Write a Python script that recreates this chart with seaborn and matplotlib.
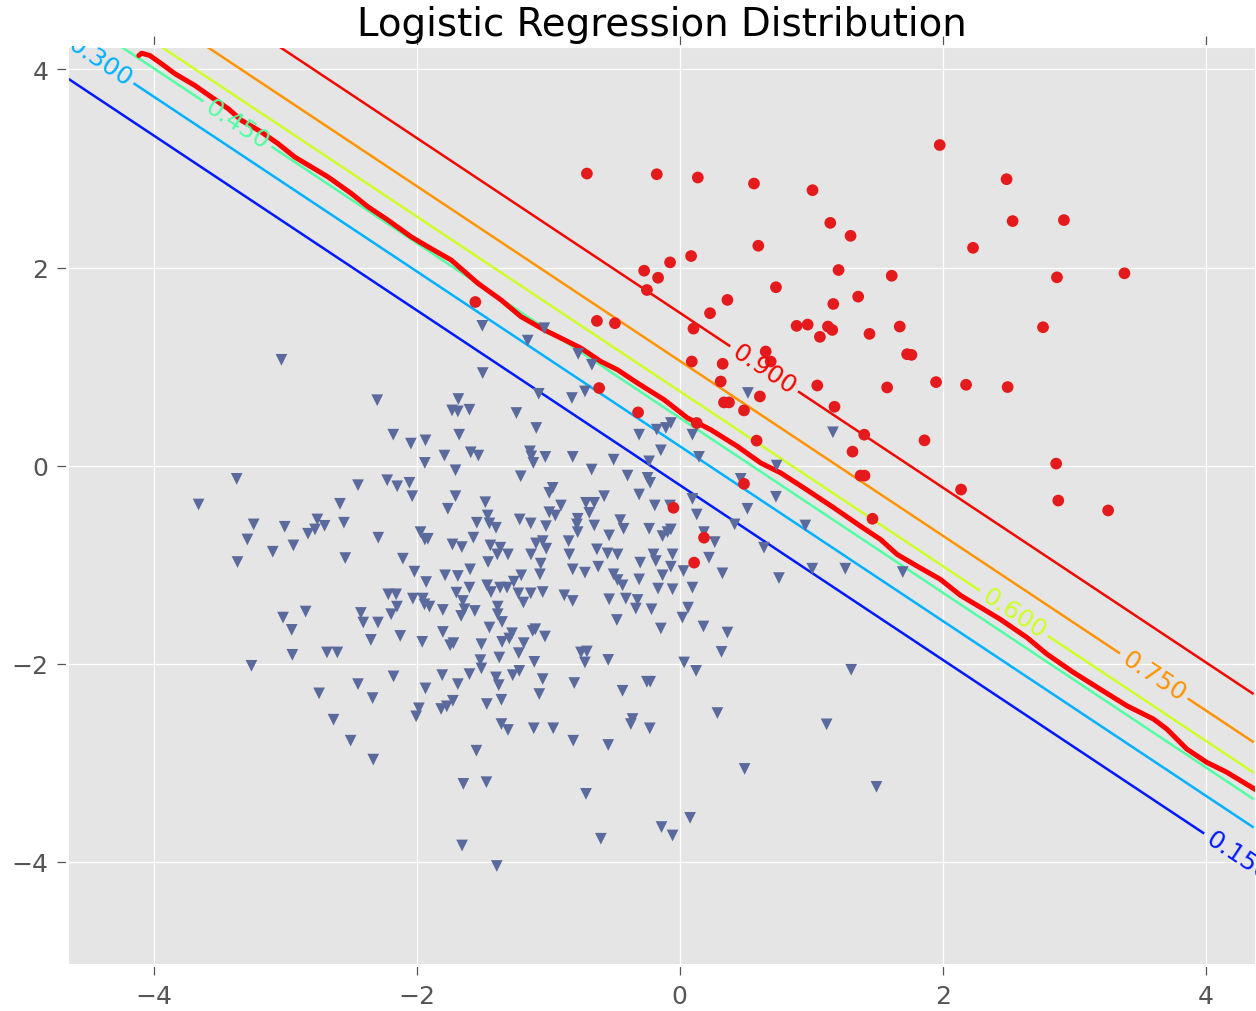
import matplotlib
matplotlib.use("Agg")
import matplotlib.pyplot as plt
import numpy as np
import pandas as pd
import seaborn as sns


# class 0 points (triangles)
TRI_X = [
    -3.028,
    -3.368, -2.446, -3.658, -2.583, -3.239, -3.003, -2.755, -2.700, -2.773, -2.553, -2.826,
    -3.287, -2.937, -3.094, -3.362, -2.543, -3.016, -2.844, -2.424, -2.406, -2.294, -2.950,
    -2.348, -2.945, -2.682, -2.603, -3.256, -2.446, -2.742, -2.335, -2.632, -2.502, -2.330,
    -2.300, -1.498, -1.683, -1.731, -1.687, -1.599, -1.072, -0.820, -1.242, -2.178, -2.044,
    -1.933, -1.677, -1.091, -1.789, -1.938, -1.589, -1.531, -1.139, -1.129, -1.113, -1.022,
    -0.814, -1.705, -1.209, -2.224, -2.148, -2.055, -2.034, -1.705, -1.763, -1.478, -0.966,
    -0.992, -0.903, -0.992, -0.946, -1.460, -1.543, -1.447, -1.397, -1.217, -1.133, -1.017,
    -2.292, -1.971, -1.938, -1.915, -1.569, -1.728, -1.657, -1.440, -1.364, -1.387, -1.306,
    -1.093, -1.042, -1.015, -1.131, -0.845, -0.840, -2.105, -1.457, -1.057, -2.017, -1.928,
    -1.784, -1.687, -1.594, -1.205, -1.063, -0.814, -1.262, -1.465, -1.435, -1.366, -1.313,
    -1.227, -1.189, -1.133, -1.042, -1.599, -1.698, -1.649, -1.637, -1.662, -1.558, -1.801,
    -2.216, -2.156, -2.150, -2.194, -2.029, -1.953, -1.941, -1.903, -1.384, -1.384, -1.351,
    -0.878, -0.814,
    -1.447, -2.125, -1.958, -1.801, -1.746, -1.721, -1.508, -1.351, -1.296, -1.275, -1.118,
    -1.098, -1.025, -1.186, -1.224, -1.372, -1.516, -1.508, -1.106, -2.176, -1.806, -1.599,
    -1.687, -1.933, -1.397, -1.376, -1.270, -1.220, -1.042, -1.068, -0.802, -1.725, -1.771,
    -1.814, -1.983, -2.004, -1.467, -1.356, -1.356, -1.306, -1.110, -0.962, -0.810, -1.546,
    -1.645, -1.470, -1.655, -1.391,
    -0.721, -0.309, -0.175, -0.106, -0.068, 0.096, -0.144, -0.503, -0.670, 0.146, -0.233,
    -0.397, -0.245, -0.225, 0.463, -0.575, -0.309, -0.713, -0.650, -0.688, -0.776, -0.782,
    -0.776, -0.650, -0.453, -0.427, -0.190, -0.074, 0.096, 0.129, 0.514, 0.417, 0.640,
    -0.233, -0.131, -0.093, -0.068, -0.537, 0.184, 0.266, -0.630, -0.549, -0.473, -0.200,
    -0.182, -0.055, -0.301, -0.068, 0.222, -0.721, -0.620, -0.503, -0.473, -0.435, -0.309,
    -0.131, 0.028, 0.324, -0.165, -0.055, 0.096, -0.537, -0.410, -0.321, -0.334, -0.215,
    0.063, -0.478, 0.020,
    -0.144, 0.180, 0.362, -0.751, -0.706, -0.721, -0.544, 0.317, 0.033, 0.124, -0.435,
    -0.250, -0.225, 0.286, -0.359, -0.372, -0.228, -0.544, 0.493, -0.713, 0.078, -0.139,
    -0.055, -0.600,
    -1.501, -1.156, -1.030, -0.772, -0.668, 0.518,
    1.164, 0.736, 0.731, 0.954, 1.007, 1.258, 0.754, 1.695, 1.303, 1.116, 1.495,
]
TRI_Y = [
    1.068,
    -0.134, -0.198, -0.393, -0.386, -0.594, -0.618, -0.544, -0.608, -0.645, -0.577, -0.688,
    -0.746, -0.806, -0.870, -0.974, -0.934, -1.535, -1.474, -1.488, -1.585, -1.585, -1.659,
    -1.760, -1.911, -1.887, -1.887, -2.022, -2.207, -2.300, -2.348, -2.566, -2.778, -2.969,
    0.660, 0.934, 0.672, 0.557, 0.547, 0.564, 0.725, 0.682, 0.531, 0.312, 0.222,
    0.255, 0.312, 0.380, 0.101, 0.027, 0.134, 0.101, 0.144, 0.094, 0.027, 0.088,
    0.088, -0.047, -0.108, -0.148, -0.209, -0.174, -0.309, -0.309, -0.436, -0.370, -0.225,
    -0.275, -0.403, -0.471, -0.504, -0.504, -0.577, -0.584, -0.628, -0.544, -0.584, -0.612,
    -0.728, -0.672, -0.746, -0.739, -0.728, -0.796, -0.823, -0.806, -0.829, -0.897, -0.897,
    -0.786, -0.763, -0.839, -0.897, -0.763, -0.897, -0.940, -0.974, -0.990, -1.071, -1.176,
    -1.108, -1.115, -1.048, -1.108, -1.098, -1.048, -1.172, -1.209, -1.277, -1.232, -1.232,
    -1.290, -1.383, -1.290, -1.277, -1.232, -1.283, -1.367, -1.451, -1.518, -1.468, -1.458,
    -1.300, -1.300, -1.424, -1.501, -1.343, -1.343, -1.401, -1.424, -1.424, -1.501, -1.579,
    -1.310, -1.367,
    -1.635, -1.720, -1.780, -1.680, -1.814, -1.793, -1.804, -1.780, -1.746, -1.693, -1.670,
    -1.652, -1.726, -1.793, -1.894, -1.938, -1.965, -2.048, -1.982, -2.129, -2.116, -2.106,
    -2.207, -2.250, -2.139, -2.217, -2.116, -2.073, -2.156, -2.307, -2.196, -2.375, -2.431,
    -2.458, -2.451, -2.532, -2.408, -2.365, -2.610, -2.670, -2.653, -2.653, -2.778, -2.879,
    -3.214, -3.197, -3.836, -4.043,
    0.749, 0.312, 0.363, 0.380, 0.430, 0.312, 0.154, 0.060, -0.040, 0.088, 0.043,
    -0.101, -0.124, -0.174, -0.134, -0.309, -0.292, -0.376, -0.376, -0.477, -0.537, -0.594,
    -0.672, -0.605, -0.551, -0.638, -0.403, -0.403, -0.336, -0.494, -0.436, -0.594, -0.829,
    -0.638, -0.712, -0.672, -0.645, -0.705, -0.672, -0.773, -0.846, -0.887, -0.897, -0.897,
    -0.964, -0.897, -0.980, -1.021, -0.930, -1.081, -1.021, -1.098, -1.156, -1.209, -1.149,
    -1.108, -1.065, -1.088, -1.242, -1.249, -1.232, -1.350, -1.343, -1.357, -1.444, -1.451,
    -1.434, -1.559, -1.535,
    -1.645, -1.625, -1.686, -1.887, -1.877, -1.988, -1.962, -1.881, -1.988, -2.073, -2.274,
    -2.183, -2.183, -2.499, -2.559, -2.610, -2.653, -2.821, -3.063, -3.315, -3.557, -3.650,
    -3.735, -3.768,
    1.411, 1.262, 1.387, 1.128, 1.018, 0.733,
    0.336, 0.000, -0.315, -0.605, -1.041, -1.041, -1.136, -1.075, -2.062, -2.613, -3.244,
]

# class 1 points (circles)
RED_X = [
    -0.613, -0.317, 0.129, 0.311, 0.336, 0.374, 0.488, 0.609, 0.584, 0.488, -0.048, 0.184, 0.109,
    -0.706, -0.175, 0.137, 0.564, 0.597, 0.086, -0.074, -0.271, -0.165, -0.250, 0.731, 0.362,
    0.230, 0.888, 0.104, -0.630, -0.493, -1.554, 0.091, 0.326, 0.653, 0.691,
    1.976, 2.484, 1.009, 1.144, 1.298, 2.530, 2.920, 2.229, 1.207, 1.611, 2.867, 3.380, 1.356,
    1.167, 0.972, 1.065, 1.126, 1.159, 1.442, 1.672, 2.761, 1.728, 1.761, 1.045, 1.576, 1.948,
    2.176, 2.492, 1.176,
    1.402, 1.860, 1.313, 1.374, 1.404, 2.138, 1.465, 2.861, 2.877, 3.256,
]
RED_Y = [
    0.783, 0.537, 0.430, 0.849, 0.638, 0.638, 0.557, 0.698, 0.252, -0.184, -0.426, -0.728, -0.980,
    2.949, 2.942, 2.909, 2.848, 2.220, 2.116, 2.052, 1.968, 1.897, 1.773, 1.801, 1.673,
    1.539, 1.411, 1.383, 1.461, 1.438, 1.652, 1.051, 1.028, 1.152, 1.051,
    3.237, 2.892, 2.781, 2.451, 2.320, 2.469, 2.479, 2.199, 1.975, 1.917, 1.901, 1.942, 1.706,
    1.632, 1.424, 1.300, 1.404, 1.370, 1.330, 1.404, 1.397, 1.125, 1.118, 0.809, 0.789, 0.843,
    0.816, 0.793, 0.594,
    0.312, 0.255, 0.141, -0.101, -0.101, -0.242, -0.537, 0.020, -0.353, -0.453,
]

# thick red boundary
BOUND_X = [
    -4.112, -4.091, -4.028, -3.939, -3.838, -3.687, -3.560, -3.433, -3.332, -3.180, -3.054,
    -2.927, -2.801, -2.674, -2.497, -2.370, -2.219, -2.042, -1.915, -1.738, -1.535, -1.359,
    -1.207, -1.030, -0.903, -0.751, -0.600, -0.473, -0.321, -0.119, 0.058, 0.235, 0.438,
    0.615, 0.767, 0.943, 1.171, 1.374, 1.526, 1.652, 1.804, 1.981, 2.133, 2.285, 2.436,
    2.639, 2.791, 2.993, 3.195, 3.398, 3.600, 3.702, 3.853, 4.005, 4.157, 4.380,
]
BOUND_Y = [
    4.141, 4.164, 4.141, 4.057, 3.957, 3.839, 3.721, 3.604, 3.486, 3.368, 3.251,
    3.116, 3.016, 2.915, 2.748, 2.613, 2.479, 2.310, 2.210, 2.076, 1.841, 1.673,
    1.504, 1.370, 1.287, 1.186, 1.051, 0.967, 0.833, 0.665, 0.481, 0.363, 0.194,
    0.027, -0.074, -0.225, -0.426, -0.612, -0.746, -0.897, -1.015, -1.149, -1.310, -1.431, -1.552,
    -1.736, -1.904, -2.089, -2.257, -2.425, -2.559, -2.660, -2.861, -2.996, -3.096, -3.275,
]

# logistic surface p = 1 / (1 + exp(-(B0 + B1*x + B2*y)))
B0, B1, B2 = -1.29, 1.995, 2.26
LEVELS = [0.15, 0.30, 0.45, 0.60, 0.75, 0.90]
LABEL_SPOTS = [(4.24, -3.95), (-4.41, 4.09), (-3.357, 3.459), (2.537, -1.496), (3.60, -2.131), (0.640, 0.975)]

TRI_COLOR = "#5A6A9C"
RED_COLOR = "#E41A1C"


def main():
    sns.set_theme(style="darkgrid", rc={
        "axes.facecolor": "#E5E5E5",
        "axes.edgecolor": "white",
        "grid.color": "white",
        "grid.linewidth": 0.5,
        "font.family": ["DejaVu Sans"],
        "font.size": 10,
        "text.color": "black",
        "xtick.labelsize": 10,
        "ytick.labelsize": 10,
        "xtick.color": "#555555",
        "ytick.color": "#555555",
        "xtick.bottom": True,
        "xtick.top": True,
        "ytick.left": True,
        "ytick.right": True,
        "xtick.direction": "out",
        "ytick.direction": "out",
        "xtick.major.size": 4,
        "ytick.major.size": 4,
        "xtick.major.width": 0.5,
        "ytick.major.width": 0.5,
        "xtick.major.pad": 3.5,
        "ytick.major.pad": 3.5,
    })

    pts = pd.DataFrame({
        "x": TRI_X + RED_X,
        "y": TRI_Y + RED_Y,
        "label": [0] * len(TRI_X) + [1] * len(RED_X),
    })

    fig = plt.figure(figsize=(1256 / 180, 1012 / 180), dpi=180)
    ax = fig.add_axes([67 / 1256, 1 - 966 / 1012, 1 - 67 / 1256, (966 - 47) / 1012])

    x_lo, x_hi = pts["x"].min() - 1, pts["x"].max() + 1
    y_lo, y_hi = pts["y"].min() - 1, pts["y"].max() + 1
    xx, yy = np.meshgrid(np.arange(x_lo, x_hi, 0.02), np.arange(y_lo, y_hi, 0.02))
    prob = 1.0 / (1.0 + np.exp(-(B0 + B1 * xx + B2 * yy)))

    cs = ax.contour(xx, yy, prob, levels=LEVELS, cmap="jet", vmin=0, vmax=1, linewidths=1.0)
    ax.clabel(cs, fmt="%1.3f", fontsize=10, inline=True, manual=LABEL_SPOTS)

    sns.lineplot(x=BOUND_X, y=BOUND_Y, sort=False, estimator=None, color="red",
                 linewidth=2.0, ax=ax)

    sns.scatterplot(data=pts, x="x", y="y", hue="label", style="label",
                    markers={0: "v", 1: "o"}, palette={0: TRI_COLOR, 1: RED_COLOR},
                    s=22, edgecolor="none", legend=False, ax=ax, zorder=3)

    ax.set_xlim(x_lo, x_hi)
    ax.set_ylim(y_lo, y_hi)
    ax.set_xticks([-4, -2, 0, 2, 4])
    ax.set_yticks([-4, -2, 0, 2, 4])
    ax.set_xlabel("")
    ax.set_ylabel("")
    ax.set_title("Logistic Regression Distribution", fontsize=15.5, color="black", pad=4.5)

    fig.savefig("out.png", dpi=180)
    plt.close(fig)


if __name__ == "__main__":
    main()
